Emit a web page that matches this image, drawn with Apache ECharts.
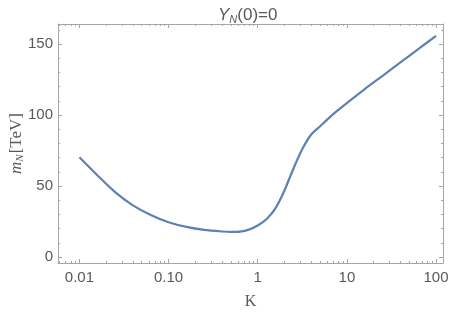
<!DOCTYPE html>
<html>
<head>
<meta charset="utf-8">
<script src="https://cdn.jsdelivr.net/npm/echarts@6/dist/echarts.min.js"></script>
<style>
html,body{margin:0;padding:0;background:#fff;}
#chart{width:449px;height:313px;}
</style>
</head>
<body>
<div id="chart"></div>
<script>
// K values (log-spaced samples of the curve)
const kValues = [0.01, 0.01585, 0.02512, 0.03981, 0.0631, 0.1, 0.1585, 0.2512, 0.3981, 0.5012, 0.631, 0.794,
  1, 1.259, 1.585, 1.995, 2.512, 3.162, 3.981, 5.012, 6.31, 7.943, 10, 15.85, 25.12, 39.81, 63.1, 100];
// m_N [TeV]
const mValues = [70.2, 57.6, 45.7, 36.4, 29.6, 24.5, 21.2, 19.1, 18.0, 17.7, 17.9, 19.3,
  22.2, 26.8, 34.5, 46.9, 62.2, 76.0, 86.3, 92.1, 98.0, 103.4, 108.4, 118.3, 127.6, 137.0, 146.4, 155.8];

const xTickLabels = [0.01, 0.1, 1, 10, 100];
const yTickLabels = [0, 50, 100, 150];
const yMinorTicks = [10, 20, 30, 40, 60, 70, 80, 90, 110, 120, 130, 140, 160];
const xMinorTicks = [];
[0.001, 0.01, 0.1, 1, 10].forEach(function (d) {
  for (let i = 2; i <= 9; i++) xMinorTicks.push(+(d * i).toPrecision(3));
});

const frameColor = '#a6a6a6';
const textColor = '#595959';
const tickFont = 15;
const xMin = 0.00575, xMax = 119.7;
const yMin = -4.2, yMax = 164.1;

function xAxisDef(grid, pos, major, withLabel) {
  return {
    type: 'log', logBase: 10, position: pos, min: xMin, max: xMax,
    gridIndex: grid,
    axisLine: { show: major, onZero: false, lineStyle: { color: frameColor, width: 1 } },
    axisTick: { show: true, inside: true, length: major ? 4 : 2,
      customValues: major ? xTickLabels : xMinorTicks,
      lineStyle: { color: frameColor, width: 1 } },
    axisLabel: withLabel ? {
      show: true, customValues: xTickLabels, color: textColor, fontSize: tickFont,
      fontFamily: 'Liberation Sans', margin: 7,
      formatter: function (v) { return v === 0.1 ? '0.10' : String(v); }
    } : { show: false },
    minorTick: { show: false },
    splitLine: { show: false },
    name: withLabel ? 'K' : '',
    nameLocation: 'middle', nameGap: 31,
    nameTextStyle: { fontFamily: 'Liberation Serif', fontSize: 16, color: textColor }
  };
}
function yAxisDef(grid, pos, major, withLabel) {
  return {
    type: 'value', position: pos, min: yMin, max: yMax, gridIndex: grid,
    axisLine: { show: major, onZero: false, lineStyle: { color: frameColor, width: 1 } },
    axisTick: { show: true, inside: true, length: major ? 4 : 2,
      customValues: major ? yTickLabels : yMinorTicks,
      lineStyle: { color: frameColor, width: 1 } },
    axisLabel: withLabel ? {
      show: true, customValues: yTickLabels, color: textColor, fontSize: tickFont,
      fontFamily: 'Liberation Sans', margin: 5
    } : { show: false },
    splitLine: { show: false },
    name: withLabel ? '{mi|m}{sub|N}{r|[TeV]}' : '',
    nameLocation: 'middle', nameGap: 32, nameRotate: 90, nameMoveOverlap: false,
    nameTextStyle: {
      color: textColor,
      rich: {
        mi: { fontFamily: 'Liberation Serif', fontStyle: 'italic', fontSize: 17, color: textColor },
        sub: { fontFamily: 'Liberation Serif', fontStyle: 'italic', fontSize: 11, color: textColor, padding: [8, 1, 0, 0] },
        r: { fontFamily: 'Liberation Serif', fontSize: 17, color: textColor }
      }
    }
  };
}

const gridBox = { left: 58, right: 6, top: 24, bottom: 50, containLabel: false, outerBoundsMode: 'none' };
const chart = echarts.init(document.getElementById('chart'), null, { renderer: 'canvas' });
chart.setOption({
  animation: false,
  backgroundColor: '#ffffff',
  title: {
    text: '{i|Y}{sub|N}{n|(0)=0}',
    left: 213, top: 1,
    textStyle: {
      fontWeight: 'normal',
      rich: {
        i: { fontFamily: 'Liberation Sans', fontStyle: 'italic', fontWeight: 'normal', fontSize: 17, color: textColor },
        sub: { fontFamily: 'Liberation Sans', fontStyle: 'italic', fontWeight: 'normal', fontSize: 11, color: textColor, padding: [8, 0, 0, 0] },
        n: { fontFamily: 'Liberation Sans', fontWeight: 'normal', fontSize: 17, color: textColor }
      }
    }
  },
  grid: [Object.assign({}, gridBox), Object.assign({}, gridBox)],
  xAxis: [
    xAxisDef(0, 'bottom', true, true),
    xAxisDef(0, 'top', true, false),
    xAxisDef(1, 'bottom', false, false),
    xAxisDef(1, 'top', false, false)
  ],
  yAxis: [
    yAxisDef(0, 'left', true, true),
    yAxisDef(0, 'right', true, false),
    yAxisDef(1, 'left', false, false),
    yAxisDef(1, 'right', false, false)
  ],
  series: [{
    type: 'line',
    xAxisIndex: 0, yAxisIndex: 0,
    data: kValues.map(function (k, i) { return [k, mValues[i]]; }),
    showSymbol: false,
    smooth: 0.25,
    lineStyle: { color: '#5e81b5', width: 2.2 },
    itemStyle: { color: '#5e81b5' }
  }]
});
</script>
</body>
</html>
